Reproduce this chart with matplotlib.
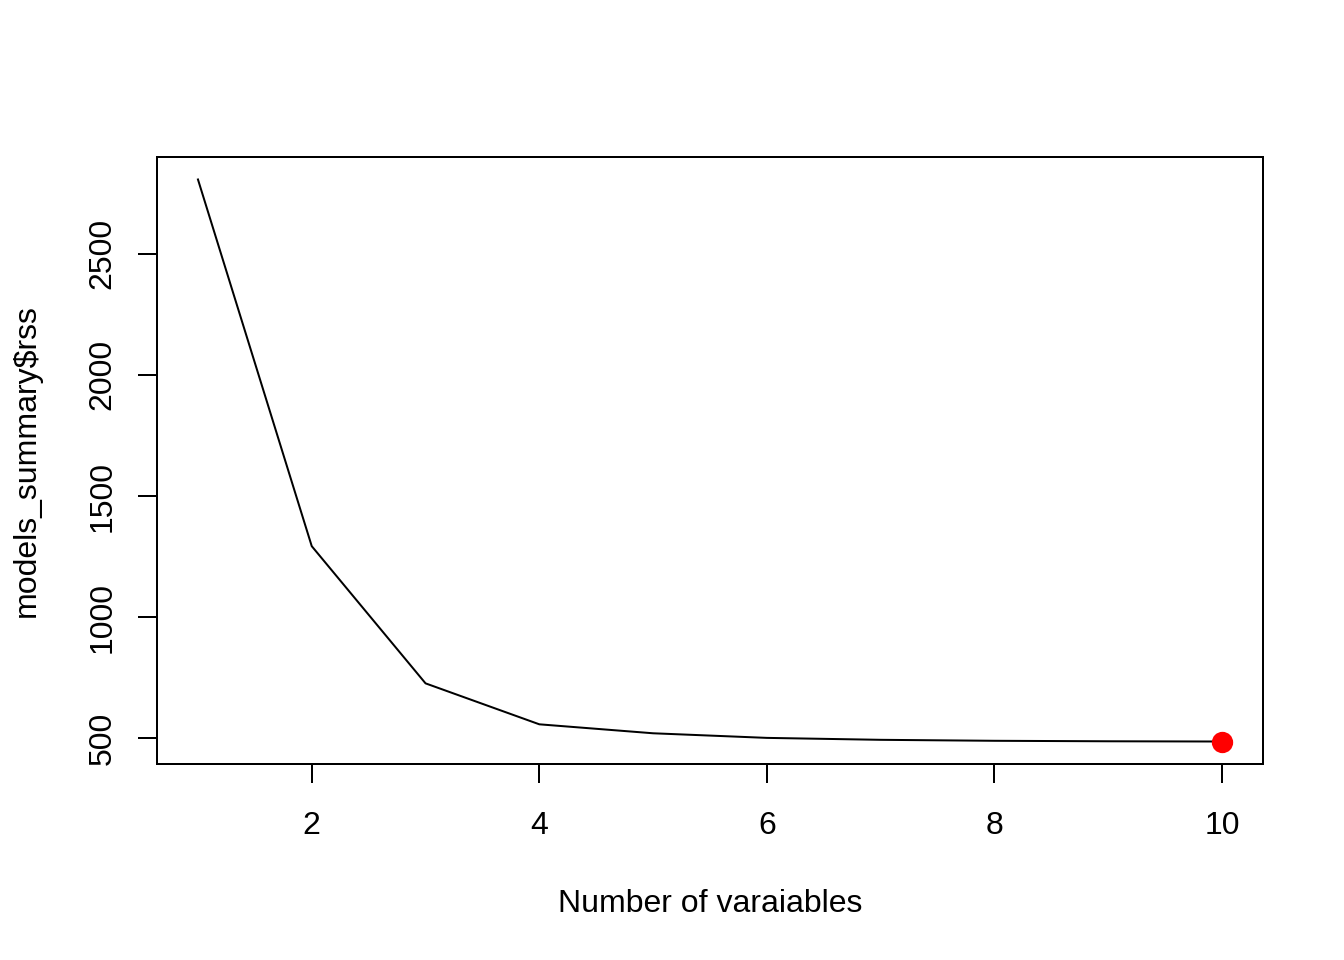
import matplotlib
matplotlib.use("Agg")
import matplotlib.pyplot as plt

n_vars = [1, 2, 3, 4, 5, 6, 7, 8, 9, 10]
rss = [2806, 1293, 727, 558, 521, 502, 494, 490, 488, 487]
best_idx = 9
x_ticks = [2, 4, 6, 8, 10]
y_ticks = [500, 1000, 1500, 2000, 2500]

plt.rcParams['font.family'] = ['Liberation Sans', 'DejaVu Sans']
fig = plt.figure(figsize=(7, 5), dpi=192)
ax = fig.add_axes([157/1344, 1-764/960, (1263-157)/1344, (764-157)/960])
ax.plot(n_vars, rss, color='black', linewidth=0.75)
ax.plot(n_vars[best_idx], rss[best_idx], 'o', color='red', markersize=7)

xr = max(n_vars) - min(n_vars)
ax.set_xlim(min(n_vars) - 0.04*xr, max(n_vars) + 0.04*xr)
yr = max(rss) - min(rss)
ax.set_ylim(min(rss) - 0.04*yr, max(rss) + 0.04*yr)

ax.set_xticks(x_ticks)
ax.set_yticks(y_ticks)
ax.set_yticklabels([str(v) for v in y_ticks], rotation=90, va='center')
ax.tick_params(direction='out', length=7, width=0.75, labelsize=12)
ax.tick_params(axis='x', pad=10.6)
ax.tick_params(axis='y', pad=7.8)
for s in ax.spines.values():
    s.set_linewidth(0.75)
ax.set_xlabel('Number of varaiables', fontsize=12, labelpad=18)
ax.set_ylabel('models_summary$rss', fontsize=12, labelpad=17)

fig.savefig('out.png', dpi=192)
